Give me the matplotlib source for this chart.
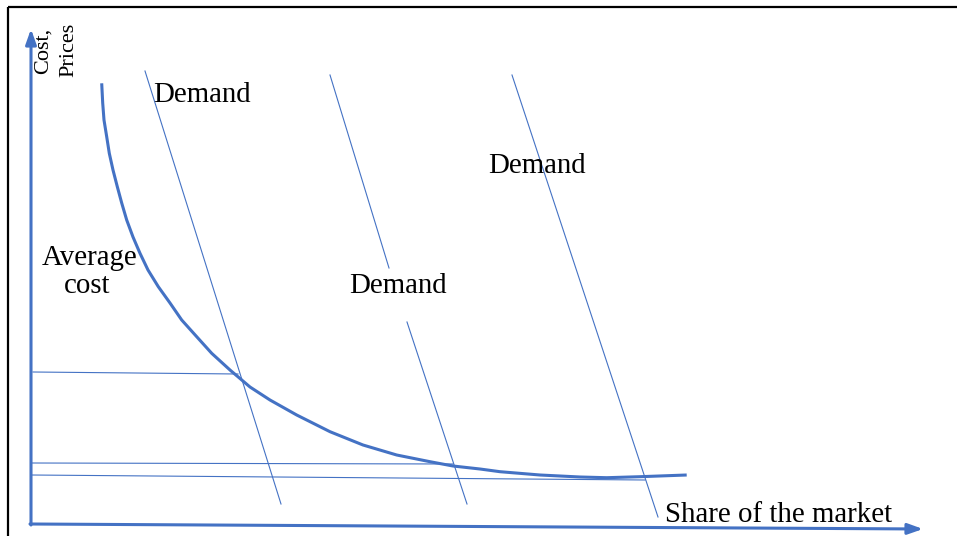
import matplotlib.pyplot as plt

# diagram geometry (pixel units, y grows downwards)
cost_x = [101.7, 102.7, 104, 106.7, 109.3, 113, 117.3, 121.7, 126.7, 133,
          140, 148, 158.3, 170, 181.7, 196.7, 211.7, 230, 250, 270, 296.7,
          330, 363, 396.7, 430, 453, 480, 500, 540, 580, 606.7, 640, 686.7]
cost_y = [83.3, 103, 120, 136.7, 153.3, 170, 186.7, 203, 220, 237,
          253.3, 270, 286.7, 303, 320, 336.7, 353.3, 370, 387, 400, 415,
          431.7, 445, 455, 461.7, 466, 469, 471.7, 475, 477, 477.7, 476.7, 475]

# demand lines: (x0, y0, x1, y1)
demand_lines = [
    (145, 71, 281, 504),
    (330, 75, 389, 268),
    (407, 322, 467, 504),
    (512, 75, 658, 517),
]

# horizontal price lines
price_lines = [
    (33, 372, 238, 374),
    (31, 463, 453, 464),
    (31, 475, 645, 480),
]

labels = [
    ("Demand", 153, 102),
    ("Demand", 349, 293),
    ("Demand", 488, 173),
    ("Share of the market", 665, 522),
]

blue = "#4472C4"
serif = ["Liberation Serif", "DejaVu Serif"]

fig = plt.figure(figsize=(9.57, 5.36), dpi=100)
ax = fig.add_axes([0, 0, 1, 1])
ax.set_xlim(0, 957)
ax.set_ylim(536, 0)
ax.axis("off")

# black frame (top and left edges visible)
ax.plot([8, 957], [7, 7], color="black", lw=1.6, solid_capstyle="butt")
ax.plot([8, 8], [7, 536], color="black", lw=1.6, solid_capstyle="butt")

# axes with arrow heads
arrow = dict(arrowstyle="-|>,head_length=0.9,head_width=0.32",
             color=blue, lw=2.2, mutation_scale=10, shrinkA=0, shrinkB=0)
ax.annotate("", xy=(31, 29), xytext=(31, 525), arrowprops=arrow)
ax.annotate("", xy=(923, 529), xytext=(30, 524), arrowprops=arrow)

for x0, y0, x1, y1 in price_lines:
    ax.plot([x0, x1], [y0, y1], color=blue, lw=0.8)

for x0, y0, x1, y1 in demand_lines:
    ax.plot([x0, x1], [y0, y1], color=blue, lw=0.8)

ax.plot(cost_x, cost_y, color=blue, lw=2.2, solid_capstyle="butt",
        solid_joinstyle="round")

for txt, x, y in labels:
    ax.text(x, y, txt, family=serif, fontsize=20.8, ha="left", va="baseline")

ax.text(90, 265, "Average", family=serif, fontsize=20.8, ha="center", va="baseline")
ax.text(87, 293, "cost", family=serif, fontsize=20.8, ha="center", va="baseline")

ax.text(43, 51, "Cost,", family=serif, fontsize=16, rotation=90,
        ha="center", va="center")
ax.text(69, 50, "Prices", family=serif, fontsize=16, rotation=90,
        ha="center", va="center")

fig.savefig("out.png", dpi=100)
